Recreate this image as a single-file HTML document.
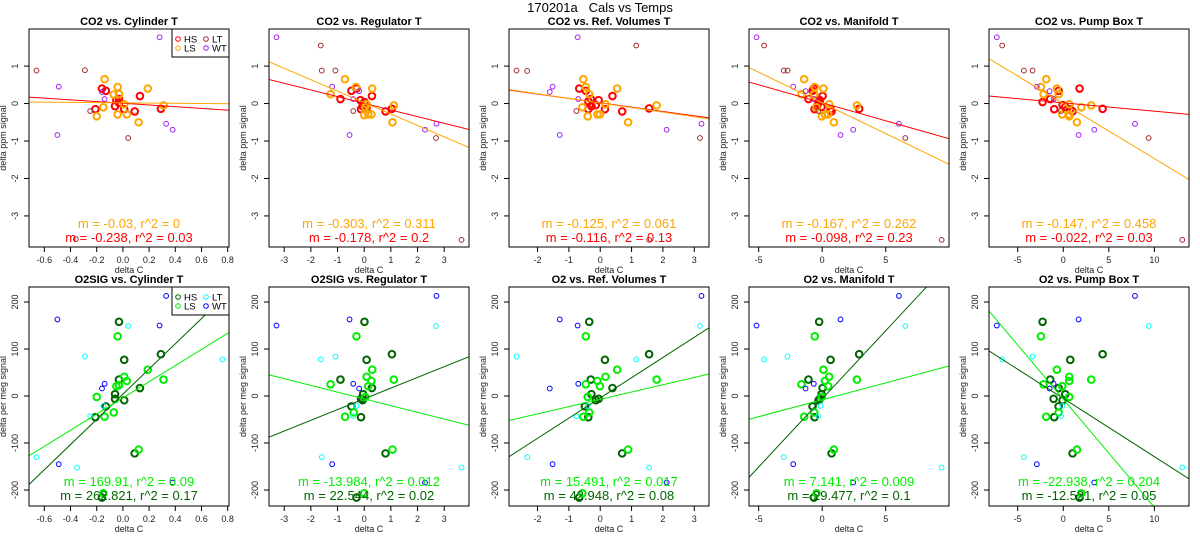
<!DOCTYPE html>
<html><head><meta charset="utf-8"><style>
html,body{margin:0;padding:0;background:#fff}
svg{display:block;font-family:"Liberation Sans",Arial,sans-serif}
</style></head><body>
<svg id="chart" width="1200" height="550" viewBox="0 0 1200 550">
<rect width="1200" height="550" fill="#fff"/>
<text x="600" y="12" text-anchor="middle" font-size="13" style="white-space:pre">170201a   Cals vs Temps</text>
</svg>
<script>
// ---- data: CO2 row ----
const cyl_co2_HS=[[-0.16,0.4],[-0.13,0.34],[-0.21,-0.15],[-0.06,-0.07],[-0.05,0.09],[-0.03,0.12],[-0.03,0.02],[0.01,-0.15],[0.09,-0.21],[0.13,0.2],[0.29,-0.14]];
const cyl_co2_LS=[[-0.14,0.65],[-0.04,0.44],[-0.07,0.24],[-0.03,0.25],[0.19,0.4],[-0.15,-0.1],[-0.2,-0.34],[-0.04,-0.29],[0.03,-0.29],[0.01,-0.02],[0.12,-0.5],[0.31,-0.05]];
const cyl_co2_LT=[[-0.66,0.88],[-0.29,0.89],[0.04,-0.92],[-0.25,-0.2],[-0.36,-3.62]];
const cyl_co2_WT=[[0.28,1.77],[-0.49,0.45],[-0.5,-0.84],[0.33,-0.54],[0.38,-0.7],[-0.14,0.12],[-0.16,0.31]];
const reg_co2_HS=[[-0.89,0.12],[-0.48,0.34],[-0.29,0.4],[-0.14,0.09],[-0.12,-0.15],[-0.06,-0.07],[0.01,0.04],[0.09,-0.12],[0.29,0.2],[0.8,-0.21],[1.04,-0.14]];
const reg_co2_LS=[[-0.72,0.65],[-0.31,0.44],[-1.26,0.25],[0.3,0.4],[0,-0.31],[0.15,-0.29],[0.27,-0.29],[0.04,-0.1],[0.09,-0.02],[1.06,-0.5],[1.11,-0.05]];
const reg_co2_LT=[[-1.63,1.55],[-1.59,0.88],[-1.08,0.88],[2.69,-0.92],[3.65,-3.64],[-0.41,-0.2]];
const reg_co2_WT=[[-3.29,1.77],[-1.2,0.45],[-0.55,-0.84],[2.28,-0.7],[2.71,-0.54],[-0.19,0.33],[-0.41,0.12]];
const ref_co2_HS=[[-0.67,0.4],[-0.46,0.34],[-0.38,-0.15],[-0.3,0.12],[-0.28,-0.07],[-0.14,-0.04],[-0.05,0.09],[0.39,0.2],[0.15,-0.15],[0.7,-0.21],[1.56,-0.13],[-0.38,0.06]];
const ref_co2_LS=[[-0.54,0.65],[-0.46,0.44],[-0.35,0.25],[0.54,0.4],[-0.57,-0.1],[-0.4,-0.34],[-0.09,-0.29],[-0.01,-0.29],[0.17,-0.02],[0.89,-0.5],[1.8,-0.05]];
const ref_co2_LT=[[-2.67,0.88],[-2.33,0.87],[1.15,1.55],[3.18,-0.92],[-0.76,-0.2],[1.56,-3.64]];
const ref_co2_WT=[[-0.72,1.77],[-1.52,0.45],[-1.61,0.31],[-1.29,-0.84],[2.12,-0.7],[3.23,-0.54],[-0.7,0.12]];
const man_co2_HS=[[-1.08,0.12],[-0.76,0.34],[-0.66,0.4],[-0.6,-0.15],[-0.29,0.02],[-0.18,0.09],[-0.05,-0.09],[0.03,0.2],[0.66,-0.15],[0.74,-0.21],[2.91,-0.14],[-0.4,-0.07]];
const man_co2_LS=[[-1.42,0.65],[-0.58,0.44],[-0.63,0.25],[-1.63,0.25],[0.1,0.4],[-0.45,-0.1],[-0.03,-0.34],[0.21,-0.29],[0.47,-0.29],[0.55,-0.02],[0.92,-0.5],[2.73,-0.05]];
const man_co2_LT=[[-4.57,1.55],[-3.02,0.88],[-2.73,0.88],[6.54,-0.92],[9.4,-3.64],[-0.3,-0.2]];
const man_co2_WT=[[-5.17,1.77],[-2.28,0.45],[-1.31,0.33],[-0.66,0.12],[1.44,-0.84],[2.44,-0.7],[6.04,-0.54]];
const pmp_co2_HS=[[-2.27,0.04],[-1.43,0.12],[-0.51,0.34],[1.79,0.4],[-0.99,-0.15],[-0.07,-0.04],[0.22,-0.09],[0.77,-0.15],[1.02,-0.21],[4.32,-0.14]];
const pmp_co2_LS=[[-1.87,0.65],[-2.45,0.44],[-2.16,0.25],[-0.7,0.4],[-0.51,0.25],[0.66,-0.02],[-0.11,-0.29],[0.66,-0.29],[0.66,-0.34],[1.98,-0.1],[1.5,-0.5],[3.07,-0.05]];
const pmp_co2_LT=[[-6.7,1.55],[-4.32,0.88],[-3.37,0.88],[9.37,-0.92],[13.06,-3.64],[-0.24,-0.2]];
const pmp_co2_WT=[[-7.29,1.77],[-2.9,0.45],[-1.5,0.33],[-1.06,0.12],[1.68,-0.84],[3.4,-0.7],[7.87,-0.54]];
// ---- data: O2 row ----
const cyl_o2_HS=[[-0.03,158],[0.01,77],[0.29,89],[-0.03,35],[-0.06,4],[-0.06,-6],[0.01,-9],[0.13,17],[-0.13,-22],[-0.21,-45],[0.09,-122],[-0.16,-216]];
const cyl_o2_LS=[[-0.04,127],[0.19,56],[0.31,35],[0.01,41],[0.03,32],[-0.03,23],[-0.05,21],[-0.2,-2],[-0.14,-44],[-0.07,-35],[0.12,-114],[-0.15,-207]];
const cyl_o2_LT=[[-0.66,-130],[-0.29,84],[0.04,149],[0.76,78],[-0.35,-152],[-0.15,-21],[-0.25,-43]];
const cyl_o2_WT=[[-0.5,163],[-0.49,-145],[-0.16,16],[-0.14,26],[0.28,150],[0.33,213],[0.38,-184]];
const reg_o2_HS=[[0.01,158],[0.09,77],[1.04,89],[-0.89,35],[0.29,17],[-0.04,4],[-0.12,-6],[-0.06,-9],[-0.48,-22],[-0.12,-45],[0.8,-122],[-0.29,-216]];
const reg_o2_LS=[[-0.29,127],[0.3,56],[1.11,35],[0.09,41],[0.27,32],[0.15,21],[-1.26,25],[0.04,-2],[-0.72,-44],[-0.39,-35],[1.06,-114],[0,-207]];
const reg_o2_LT=[[-1.63,78],[-1.08,84],[-1.59,-130],[2.69,149],[3.65,-152],[-0.29,-21],[-0.41,-43]];
const reg_o2_WT=[[-3.29,150],[-0.55,163],[-1.2,-145],[2.71,213],[2.28,-184],[-0.41,26],[-0.19,16]];
const ref_o2_HS=[[-0.35,158],[0.15,77],[1.56,89],[-0.3,35],[0.39,17],[-0.28,4],[-0.05,-6],[-0.14,-9],[-0.49,-22],[-0.38,-45],[0.7,-122],[-0.67,-216]];
const ref_o2_LS=[[-0.46,127],[0.54,56],[1.8,35],[0.17,41],[-0.09,32],[-0.01,21],[-0.46,25],[-0.4,-2],[-0.54,-44],[-0.35,-35],[0.89,-114],[-0.57,-207]];
const ref_o2_LT=[[-2.67,84],[-2.33,-130],[1.15,78],[3.18,149],[1.56,-152],[-0.76,-43],[-0.4,-21]];
const ref_o2_WT=[[-1.29,163],[-0.72,150],[-1.52,-145],[-1.61,16],[-0.7,26],[3.23,213],[2.12,-184]];
const man_o2_HS=[[-0.24,158],[0.66,77],[2.91,89],[-1.08,35],[0.03,17],[-0.05,4],[-0.18,-6],[-0.29,-9],[-0.76,-22],[-0.6,-45],[0.74,-122],[-0.66,-216]];
const man_o2_LS=[[-0.58,127],[0.1,56],[2.73,35],[0.55,41],[0.21,32],[0.47,21],[-1.63,25],[-0.03,-2],[-1.42,-44],[-0.63,-35],[0.92,-114],[-0.45,-207]];
const man_o2_LT=[[-4.57,78],[-2.73,84],[-3.02,-130],[6.54,149],[9.4,-152],[-0.3,-43],[-0.13,-21]];
const man_o2_WT=[[-5.17,150],[1.44,163],[-2.28,-145],[6.04,213],[2.44,-184],[-1.31,16],[-0.66,26]];
const pmp_o2_HS=[[-2.27,158],[0.77,77],[4.32,89],[-1.43,35],[-0.51,17],[0.22,4],[-0.07,-9],[-1.06,-6],[-0.51,-22],[-0.99,-45],[1.02,-122],[1.79,-216]];
const pmp_o2_LS=[[-2.45,127],[-0.7,56],[3.07,35],[0.66,41],[0.66,32],[-0.11,21],[-2.16,25],[0.66,-2],[-1.87,-44],[-0.51,-35],[1.5,-114],[1.98,-207]];
const pmp_o2_LT=[[-6.7,78],[-3.37,84],[-4.32,-130],[9.37,149],[13.06,-152],[-0.24,-43],[-0.11,-21]];
const pmp_o2_WT=[[-7.29,150],[1.68,163],[-2.9,-145],[7.87,213],[3.4,-184],[-1.5,16],[-1.06,26]];
// fit lines [slope, intercept]
const co2_LS_fit=[[-0.03,0.02],[-0.305,0.024],[-0.122,0.015],[-0.164,0.016],[-0.147,0.0]];
const co2_HS_fit=[[-0.23,0.007],[-0.178,0.006],[-0.116,0.02],[-0.096,0.02],[-0.0223,0.018]];
const o2_LS_fit=[[172,-4],[-14.3,-6],[15.5,-7],[7.2,-8],[-23,-6.5]];
const o2_HS_fit=[[268,4],[22.8,-6],[43,-4],[29,-6],[-12.4,-5]];
const co2_LS_stat=["m = -0.03, r^2 = 0","m = -0.303, r^2 = 0.311","m = -0.125, r^2 = 0.061","m = -0.167, r^2 = 0.262","m = -0.147, r^2 = 0.458"];
const co2_HS_stat=["m = -0.238, r^2 = 0.03","m = -0.178, r^2 = 0.2","m = -0.116, r^2 = 0.13","m = -0.098, r^2 = 0.23","m = -0.022, r^2 = 0.03"];
const o2_LS_stat=["m = 169.91, r^2 = 0.09","m = -13.984, r^2 = 0.012","m = 15.491, r^2 = 0.017","m = 7.141, r^2 = 0.009","m = -22.938, r^2 = 0.204"];
const o2_HS_stat=["m = 262.821, r^2 = 0.17","m = 22.544, r^2 = 0.02","m = 42.948, r^2 = 0.08","m = 29.477, r^2 = 0.1","m = -12.521, r^2 = 0.05"];
const co2_titles=["CO2 vs. Cylinder T","CO2 vs. Regulator T","CO2 vs. Ref. Volumes T","CO2 vs. Manifold T","CO2 vs. Pump Box T"];
const o2_titles=["O2SIG vs. Cylinder T","O2SIG vs. Regulator T","O2 vs. Ref. Volumes T","O2 vs. Manifold T","O2 vs. Pump Box T"];
const xlims=[[-0.717,0.81],[-3.57,3.93],[-2.91,3.47],[-5.76,9.98],[-8.15,13.8]];
const xticks=[[-0.6,-0.4,-0.2,0.0,0.2,0.4,0.6,0.8],[-3,-2,-1,0,1,2,3],[-2,-1,0,1,2,3],[-5,0,5],[-5,0,5,10]];
const co2_ylim=[-3.83,1.99], co2_yticks=[-3,-2,-1,0,1];
const o2_ylim=[-234,232], o2_yticks=[-200,-100,0,100,200];
const co2_sets=[[cyl_co2_HS,cyl_co2_LS,cyl_co2_LT,cyl_co2_WT],[reg_co2_HS,reg_co2_LS,reg_co2_LT,reg_co2_WT],[ref_co2_HS,ref_co2_LS,ref_co2_LT,ref_co2_WT],[man_co2_HS,man_co2_LS,man_co2_LT,man_co2_WT],[pmp_co2_HS,pmp_co2_LS,pmp_co2_LT,pmp_co2_WT]];
const o2_sets=[[cyl_o2_HS,cyl_o2_LS,cyl_o2_LT,cyl_o2_WT],[reg_o2_HS,reg_o2_LS,reg_o2_LT,reg_o2_WT],[ref_o2_HS,ref_o2_LS,ref_o2_LT,ref_o2_WT],[man_o2_HS,man_o2_LS,man_o2_LT,man_o2_WT],[pmp_o2_HS,pmp_o2_LS,pmp_o2_LT,pmp_o2_WT]];

const NS="http://www.w3.org/2000/svg";
const svg=document.getElementById('chart');
function mk(tag,attrs,parent){const e=document.createElementNS(NS,tag);for(const k in attrs)e.setAttribute(k,attrs[k]);(parent||svg).appendChild(e);return e;}

function drawPanel(c,row){
  const co2=row===0;
  const L=29+240*c, T=co2?29:287, W=200, H=co2?218:219;
  const xl=xlims[c], yl=co2?co2_ylim:o2_ylim;
  const sx=v=>L+(v-xl[0])/(xl[1]-xl[0])*W;
  const sy=v=>T+H-(v-yl[0])/(yl[1]-yl[0])*H;
  const colors=co2?["#ff0000","#ffa500","#a52a2a","#a020f0"]:["#006400","#00ee00","#00ffff","#0000ff"];
  const g=mk('g',{});
  
  
  const cid='clip'+row+'_'+c;
  const cp=mk('clipPath',{id:cid},g);mk('rect',{x:L,y:T,width:W,height:H},cp);
  const t=mk('text',{x:L+W/2,y:T-4,'text-anchor':'middle','font-size':'11','font-weight':'bold'},g);
  t.textContent=co2?co2_titles[c]:o2_titles[c];
  
  
  xticks[c].forEach(v=>{
    const x=sx(v);
    mk('line',{x1:x,x2:x,y1:T+H,y2:T+H+5,stroke:'#000','stroke-width':1},g);
    const lb=mk('text',{x:x,y:T+H+16,'text-anchor':'middle','font-size':'9',fill:'#222'},g);
    lb.textContent=c===0?v.toFixed(1):String(v);
    
    
  });
  const xt=mk('text',{x:L+W/2,y:T+H+26,'text-anchor':'middle','font-size':'9',fill:'#222'},g);
  xt.textContent='delta C';
  
  
  (co2?co2_yticks:o2_yticks).forEach(v=>{
    const y=sy(v);
    mk('line',{x1:L-5,x2:L,y1:y,y2:y,stroke:'#000','stroke-width':1},g);
    const lb=mk('text',{x:L-11,y:y,'text-anchor':'middle','font-size':'9',fill:'#222',transform:`rotate(-90 ${L-11} ${y})`},g);
    lb.textContent=String(v);
    
    
  });
  const yt=mk('text',{x:L-23,y:T+H/2,'text-anchor':'middle','font-size':'9',fill:'#222',transform:`rotate(-90 ${L-23} ${T+H/2})`},g);
  yt.textContent=co2?'delta ppm signal':'delta per meg signal';
  
  
  const sets=co2?co2_sets[c]:o2_sets[c];
  const gnames=['HS','LS','LT','WT'];
  sets.forEach((pts,gi)=>{
    const thick=gi<2;
    pts.forEach(p=>{
      const ci=mk('circle',{cx:sx(p[0]),cy:sy(p[1]),r:thick?3.3:2.4,fill:'none',stroke:colors[gi],'stroke-width':thick?2:1,'clip-path':`url(#${cid})`},g);
      
      
    });
  });
  const fits=[[co2?co2_HS_fit[c]:o2_HS_fit[c],colors[0]],[co2?co2_LS_fit[c]:o2_LS_fit[c],colors[1]]];
  fits.forEach((f,i)=>{
    const m=f[0][0],b=f[0][1];
    const ln=mk('line',{x1:sx(xl[0]),y1:sy(m*xl[0]+b),x2:sx(xl[1]),y2:sy(m*xl[1]+b),stroke:f[1],'stroke-width':1,'clip-path':`url(#${cid})`},g);
    
    
  });
  const s1=mk('text',{x:L+W/2,y:T+199,'text-anchor':'middle','font-size':'13',fill:colors[1]},g);
  s1.textContent=co2?co2_LS_stat[c]:o2_LS_stat[c];
  
  
  const s2=mk('text',{x:L+W/2,y:T+213,'text-anchor':'middle','font-size':'13',fill:colors[0]},g);
  s2.textContent=co2?co2_HS_stat[c]:o2_HS_stat[c];
  
  
  mk('rect',{x:L,y:T,width:W,height:H,fill:'none',stroke:'#000','stroke-width':1},g);
  if(c===0){
    const lg=mk('g',{},g);
    
    
    mk('rect',{x:L+143,y:T,width:57,height:28,fill:'#fff',stroke:'#000','stroke-width':1},lg);
    const pos=[[0,0],[0,1],[1,0],[1,1]];
    gnames.forEach((n,i)=>{
      const cx=L+149+pos[i][0]*28, cy=T+10+pos[i][1]*9;
      const e=mk('g',{},lg);
      
      
      mk('circle',{cx:cx,cy:cy,r:2.3,fill:'none',stroke:colors[i],'stroke-width':1},e);
      const tt=mk('text',{x:cx+6,y:cy+3.5,'font-size':'9.5',fill:'#000'},e);
      tt.textContent=n;
    });
  }
}
for(let c=0;c<5;c++){drawPanel(c,0);drawPanel(c,1);}
</script>
</body></html>
